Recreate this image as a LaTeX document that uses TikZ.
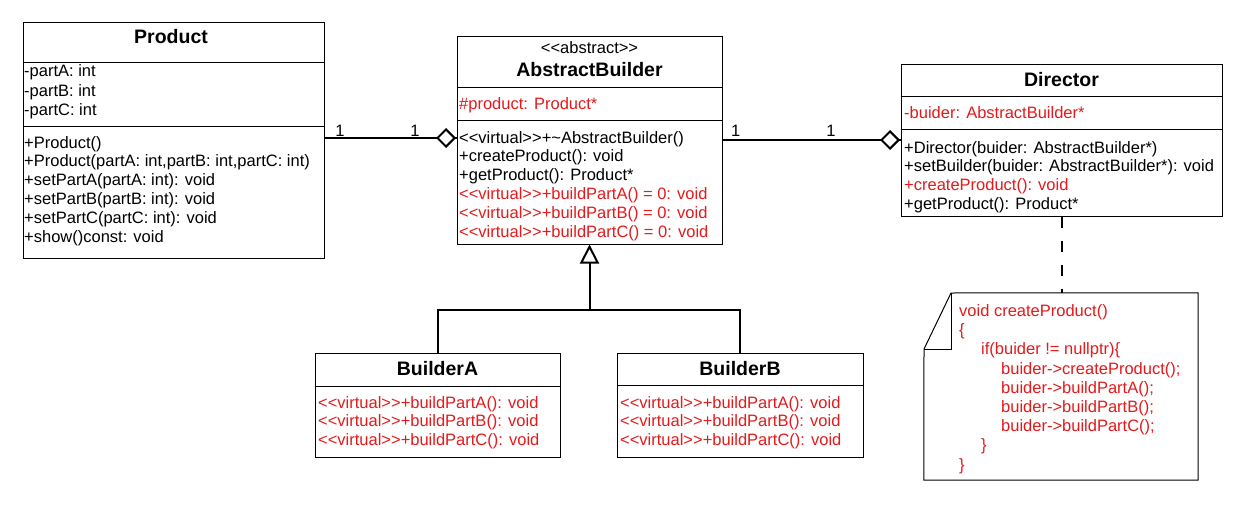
\documentclass[tikz,border=0pt]{standalone}
\usepackage{fontspec}
\setmainfont{Liberation Sans}
\usetikzlibrary{arrows.meta,shapes.geometric}
\definecolor{umlred}{RGB}{228,26,28}
\begin{document}
\begin{tikzpicture}[x=1pt,y=-1pt,
  box/.style={draw, line width=1pt, inner sep=0pt, rectangle},
  sep/.style={line width=1pt},
  txt/.style={anchor=base west, inner sep=0pt, font=\fontsize{16.5}{19}\selectfont},
  rtxt/.style={txt, text=umlred},
  ctxt/.style={anchor=base, inner sep=0pt, font=\fontsize{16.5}{19}\selectfont},
  ttl/.style={anchor=base, inner sep=0pt, font=\fontsize{19.5}{22}\selectfont\bfseries},
  conn/.style={line width=2pt},
  dia/.style={diamond, draw, line width=2pt, fill=white, inner sep=0pt,
    minimum width=18pt, minimum height=18pt, anchor=east},
  gen/.style={conn, -{Triangle[open, length=19pt, width=19pt]}},
  notelink/.style={line width=2pt, dash pattern=on 11pt off 13pt}
]
\fill[white] (0,0) rectangle (1250,527);
\useasboundingbox (0,0) rectangle (1250,527);

% ---------- Product ----------
\node[box, minimum width=301pt, minimum height=235pt] (prod) at (173.5,140.5) {};
\draw[sep] (prod.west |- 0,63) -- (prod.east |- 0,63);
\draw[sep] (prod.west |- 0,126) -- (prod.east |- 0,126);
\node[ttl] (prodT) at (171,44) {Product};
\node[txt] (pa1) at (24,77) {-partA: int};
\node[txt] (pa2) at (24,96) {-partB: int};
\node[txt] (pa3) at (24,115) {-partC: int};
\node[txt] (pm1) at (24,148) {+Product()};
\node[txt] (pm2) at (24,166.8) {+Product(partA: int,partB: int,partC: int)};
\node[txt] (pm3) at (24,185.6) {+setPartA(partA: int): void};
\node[txt] (pm4) at (24,204.4) {+setPartB(partB: int): void};
\node[txt] (pm5) at (24,223.2) {+setPartC(partC: int): void};
\node[txt] (pm6) at (24,242) {+show()const: void};

% ---------- AbstractBuilder ----------
\node[box, minimum width=265pt, minimum height=207pt] (ab) at (589.5,140.5) {};
\draw[sep] (ab.west |- 0,87) -- (ab.east |- 0,87);
\draw[sep] (ab.west |- 0,120) -- (ab.east |- 0,120);
\node[ctxt] (abS) at (589.5,53) {<{}<abstract>{}>};
\node[ttl] (abT) at (589.5,77) {AbstractBuilder};
\node[rtxt] (aa1) at (459,110) {\#product: Product*};
\node[txt] (am1) at (459,143) {<{}<virtual>{}>+\textasciitilde AbstractBuilder()};
\node[txt] (am2) at (459,161.9) {+createProduct(): void};
\node[txt] (am3) at (459,180.7) {+getProduct(): Product*};
\node[rtxt] (am4) at (459,199.6) {<{}<virtual>{}>+buildPartA() = 0: void};
\node[rtxt] (am5) at (459,218.5) {<{}<virtual>{}>+buildPartB() = 0: void};
\node[rtxt] (am6) at (459,237.4) {<{}<virtual>{}>+buildPartC() = 0: void};

% ---------- Director ----------
\node[box, minimum width=321pt, minimum height=151pt] (dir) at (1061.5,140.5) {};
\draw[sep] (dir.west |- 0,96) -- (dir.east |- 0,96);
\draw[sep] (dir.west |- 0,129) -- (dir.east |- 0,129);
\node[ttl] (dirT) at (1061.5,86.5) {Director};
\node[rtxt] (da1) at (904,118) {-buider: AbstractBuilder*};
\node[txt] (dm1) at (904,153) {+Director(buider: AbstractBuilder*)};
\node[txt] (dm2) at (904,171.7) {+setBuilder(buider: AbstractBuilder*): void};
\node[rtxt] (dm3) at (904,190.3) {+createProduct(): void};
\node[txt] (dm4) at (904,209) {+getProduct(): Product*};

% ---------- BuilderA ----------
\node[box, minimum width=245pt, minimum height=104pt] (ba) at (437.5,405) {};
\draw[sep] (ba.west |- 0,386) -- (ba.east |- 0,386);
\node[ttl] (baT) at (437.5,375) {BuilderA};
\node[rtxt] (bam1) at (318,408) {<{}<virtual>{}>+buildPartA(): void};
\node[rtxt] (bam2) at (318,426.7) {<{}<virtual>{}>+buildPartB(): void};
\node[rtxt] (bam3) at (318,445.3) {<{}<virtual>{}>+buildPartC(): void};

% ---------- BuilderB ----------
\node[box, minimum width=246pt, minimum height=104pt] (bb) at (740,405) {};
\draw[sep] (bb.west |- 0,385) -- (bb.east |- 0,385);
\node[ttl] (bbT) at (740,375) {BuilderB};
\node[rtxt] (bbm1) at (620,408) {<{}<virtual>{}>+buildPartA(): void};
\node[rtxt] (bbm2) at (620,426.7) {<{}<virtual>{}>+buildPartB(): void};
\node[rtxt] (bbm3) at (620,445.3) {<{}<virtual>{}>+buildPartC(): void};

% ---------- Note ----------
\node[inner sep=0pt, minimum width=274pt, minimum height=187pt] (note) at (1061,386.5) {};
\draw[line width=1pt, fill=white] (951,293) -- (note.north east) -- (note.south east)
  -- (note.south west) -- (924,349) -- cycle;
\draw[line width=1pt] (951,293) -- (951,349) -- (924,349);
\node[rtxt] (n1) at (959,316.5) {void createProduct()};
\node[rtxt] (n2) at (959,335.7) {\{};
\node[rtxt] (n3) at (981,354.9) {if(buider != nullptr)\{};
\node[rtxt] (n4) at (1001,374.1) {buider->createProduct();};
\node[rtxt] (n5) at (1001,393.3) {buider->buildPartA();};
\node[rtxt] (n6) at (1001,412.5) {buider->buildPartB();};
\node[rtxt] (n7) at (1001,431.7) {buider->buildPartC();};
\node[rtxt] (n8) at (981,450.9) {\}};
\node[rtxt] (n9) at (959,470.1) {\}};

% ---------- Connectors ----------
\coordinate (l1) at (0,138);
\coordinate (l2) at (0,140);
\draw[conn] (prod.east |- l1) -- (ab.west |- l1);
\node[dia] (d1) at ([xshift=-0.5pt]ab.west |- l1) {};
\draw[conn] (ab.east |- l2) -- (dir.west |- l2);
\node[dia] (d2) at ([xshift=-0.5pt]dir.west |- l2) {};
\node[ctxt] (m1) at (340,136) {1};
\node[ctxt] (m2) at (415,136) {1};
\node[ctxt] (m3) at (735.7,136) {1};
\node[ctxt] (m4) at (831,136) {1};

\coordinate (j) at (589.5,309.5);
\draw[conn] (ba.north) |- (j) -| (bb.north);
\draw[gen] (j) -- (ab.south);

\draw[notelink] (dir.south) -- (dir.south |- note.north);
\end{tikzpicture}
\end{document}
